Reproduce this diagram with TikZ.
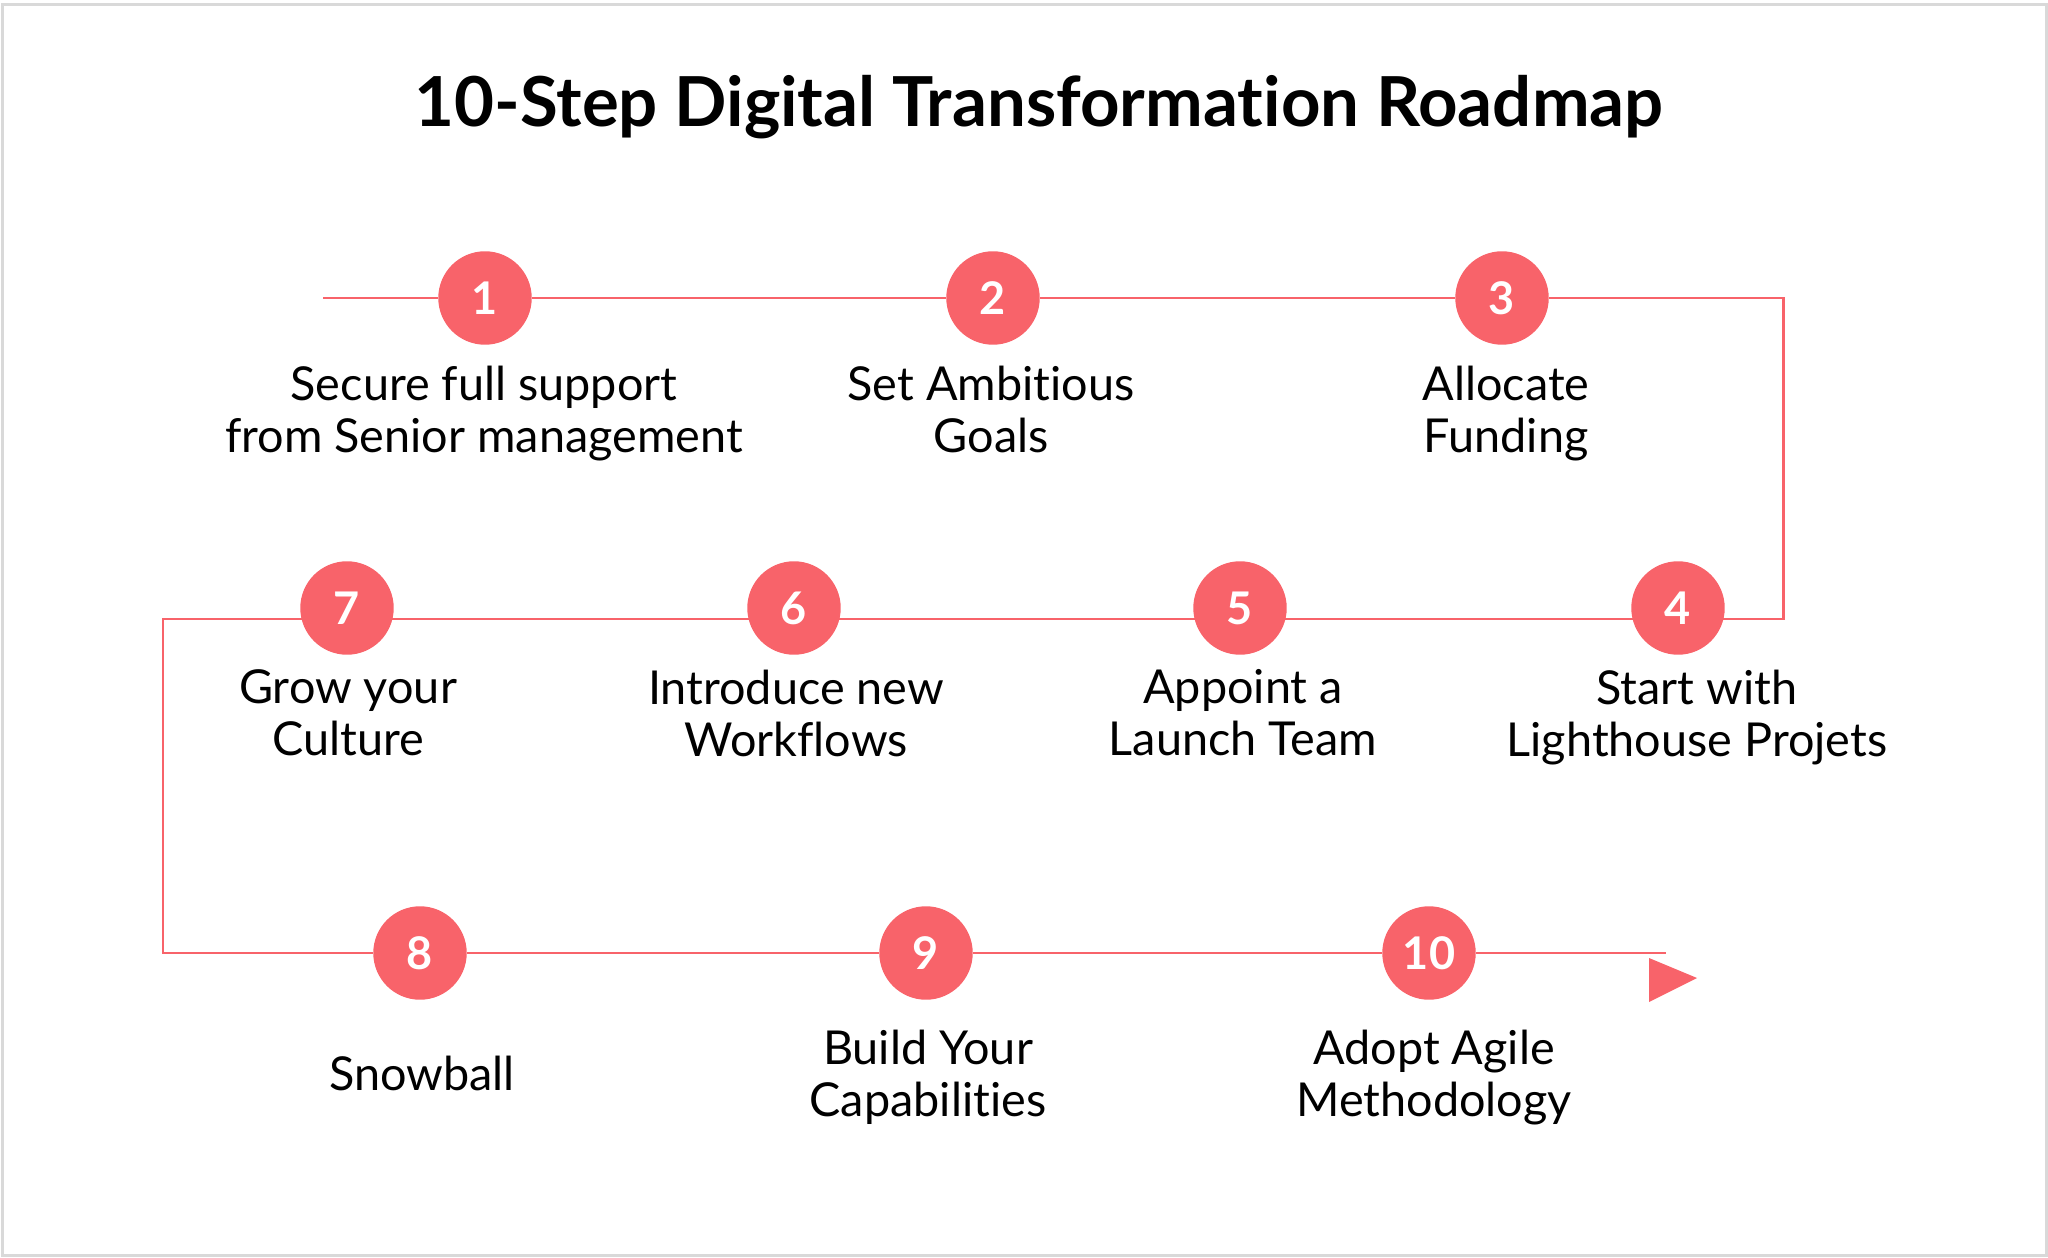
\documentclass[tikz,border=0pt]{standalone}
\usepackage{fontspec}
\setmainfont{Lato}[Ligatures={NoCommon}]
\usepackage{tikz}
\usetikzlibrary{backgrounds}

\definecolor{roadred}{HTML}{F8636A}
\definecolor{framegray}{HTML}{D9D9D9}

\tikzset{
    stepdot/.style={circle, fill=roadred, minimum size=0.934cm, inner sep=0pt, text=white, font=\fontsize{12.8}{14}\selectfont\bfseries},
    steptext/.style={anchor=north, align=center, inner sep=0pt, font=\fontsize{13.3}{14.8}\selectfont},
    roadline/.style={draw=roadred, line width=0.85pt},
}

\begin{document}
\begin{tikzpicture}[x=0.01cm, y=-0.01cm]
    \useasboundingbox (0,0) rectangle (2048,1258);
    \draw[framegray, line width=0.85pt] (2.5,4.5) rectangle (2046,1255.5);

    \node[anchor=base, font=\fontsize{19.6}{22}\selectfont\bfseries] (title) at (1039,126.6) {10-Step Digital Transformation Roadmap};

    % steps
    \node[stepdot] (s1) at (485,298) {1};
    \node[stepdot] (s2) at (993,298) {2};
    \node[stepdot] (s3) at (1502,298) {3};
    \node[stepdot] (s4) at (1678,608) {4};
    \node[stepdot] (s5) at (1240,608) {5};
    \node[stepdot] (s6) at (794,608) {6};
    \node[stepdot] (s7) at (347,608) {7};
    \node[stepdot] (s8) at (420,953) {8};
    \node[stepdot] (s9) at (926,953) {9};
    \node[stepdot] (s10) at (1429,953) {10};

    \node[steptext] (l1) at (484,365) {Secure full support\\from Senior management};
    \node[steptext] (l2) at (991,365) {Set Ambitious\\Goals};
    \node[steptext] (l3) at (1506,365) {Allocate\\Funding};
    \node[steptext] (l4) at (1697,669) {Start with\\Lighthouse Projets};
    \node[steptext] (l5) at (1243,669) {Appoint a\\Launch Team};
    \node[steptext] (l6) at (796,669) {Introduce new\\Workflows};
    \node[steptext] (l7) at (348,669) {Grow your\\Culture};
    \node[steptext] (l8) at (422,1055) {Snowball};
    \node[steptext] (l9) at (928,1029) {Build Your\\Capabilities};
    \node[steptext] (l10) at (1434,1029) {Adopt Agile\\Methodology};

    % road
    \coordinate (start) at (323,298);
    \coordinate (turnA) at (1783,298);
    \coordinate (turnB) at (1783,619);
    \coordinate (turnC) at (163,619);
    \coordinate (turnD) at (163,953);
    \coordinate (finish) at (1666,953);
    \begin{scope}[on background layer]
        \draw[roadline] (start) -- (s1) -- (s2) -- (s3) -- (turnA) -- (turnB) -- (turnC) -- (turnD) -- (s8) -- (s9) -- (s10) -- (finish);
    \end{scope}
    \fill[roadred] (1649,958) -- (1697,978) -- (1649,1002) -- cycle;
\end{tikzpicture}
\end{document}
